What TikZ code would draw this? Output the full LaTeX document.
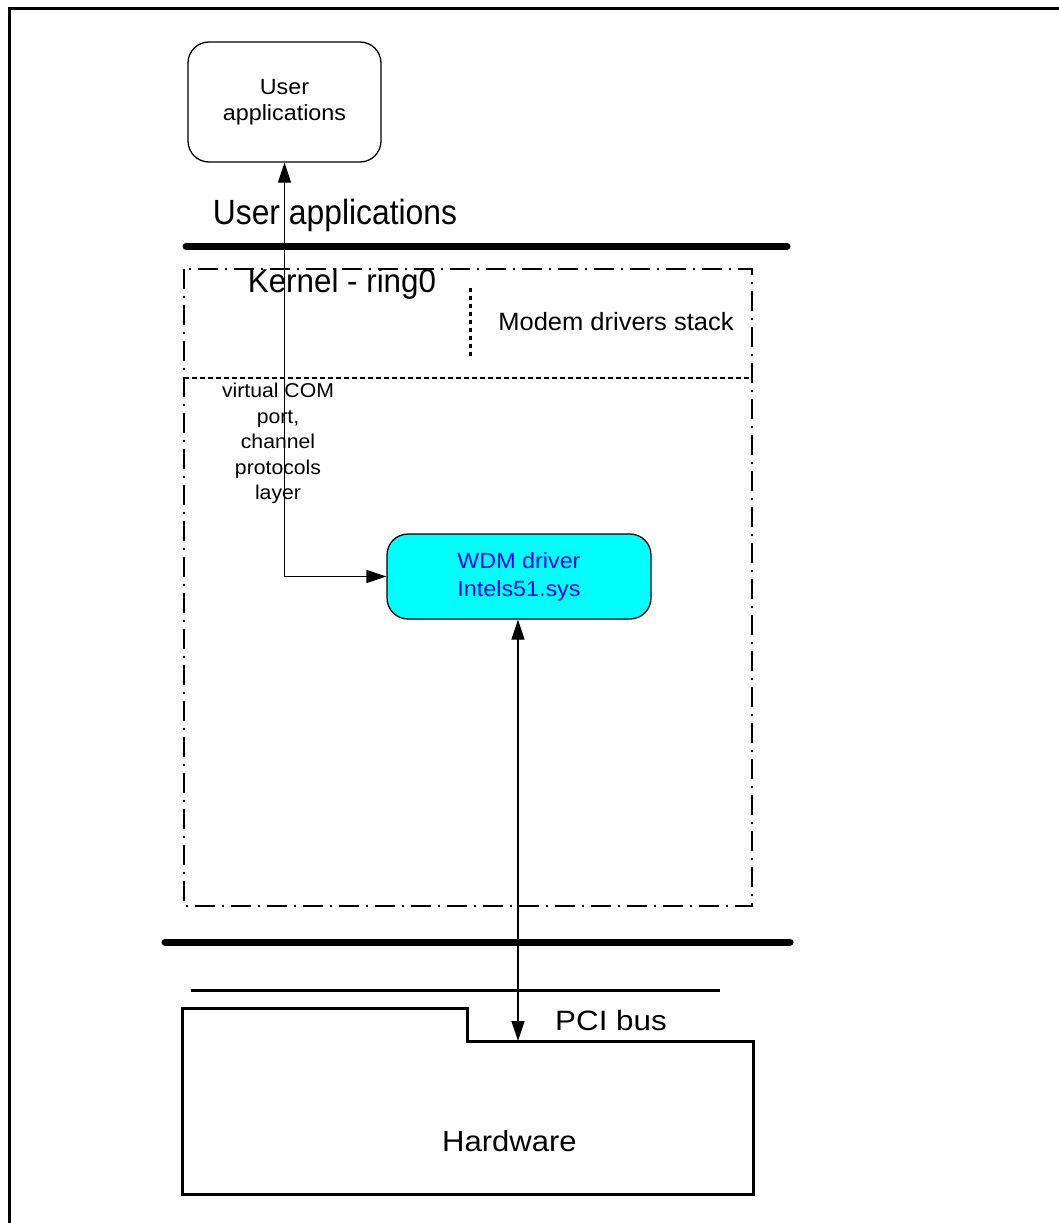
\documentclass[tikz,border=0pt]{standalone}
\usepackage{fontspec}
\setmainfont{Liberation Sans}
\newfontfamily\widefont{Liberation Sans}[FakeStretch=1.06]
\usetikzlibrary{arrows.meta}
\definecolor{wdmfill}{RGB}{0,255,255}
\definecolor{wdmtext}{RGB}{0,0,255}
\newcommand\hstretch[2]{\scalebox{#1}[1]{#2}}
\begin{document}
\begin{tikzpicture}[x=1pt,y=-1pt,
  rbox/.style={draw, line width=1.3pt, rounded corners=21pt, inner sep=0pt, align=center},
  tip/.tip={Triangle[length=20pt,width=13pt]},
  arr/.style={line width=1.3pt, tip-tip},
  bar/.style={line width=7pt, line cap=round},
  thinbar/.style={line width=3pt},
  dashdotbox/.style={line width=1.5pt, dash pattern=on 20pt off 7pt on 2pt off 7pt},
  layerline/.style={line width=1.3pt, dash pattern=on 5pt off 3pt},
  dotline/.style={line width=3pt, dash pattern=on 4pt off 4pt},
  lbl/.style={inner sep=0pt, anchor=base}
]
\useasboundingbox (0,0) rectangle (1059,1223);

% outer frame (top and left edges)
\draw[line width=3pt] (9,1223) -- (9,9) -- (1059,9);

% user applications box
\node[rbox, minimum width=193pt, minimum height=120pt,
      font=\widefont\fontsize{22}{26}\selectfont] (user) at (284.5,102) {User\\applications};

% user-space label and separator
\node[lbl, font=\fontsize{35}{40}\selectfont] (ualabel) at (335,224) {\hstretch{0.91}{User applications}};
\draw[bar] (186,246) -- (787,246);

% kernel region
\draw[dashdotbox] (184,269) rectangle (752,906);
\node[lbl, font=\fontsize{33}{38}\selectfont] (kernel) at (342,292) {\hstretch{0.95}{Kernel - ring0}};
\draw[dotline] (470,288) -- (470,357);
\node[lbl, font=\fontsize{25}{30}\selectfont] (modem) at (616,330) {\hstretch{1.02}{Modem drivers stack}};
\draw[layerline] (184,378) -- (752,378);
\node[inner sep=0pt, anchor=north, align=center, font=\widefont\fontsize{20}{25.5}\selectfont]
  (vcom) at (278,383) {virtual COM\\port,\\channel\\protocols\\layer};

% WDM driver
\node[rbox, fill=wdmfill, text=wdmtext, minimum width=264pt, minimum height=85pt,
      font=\widefont\fontsize{22}{28}\selectfont] (wdm) at (519,576.5) {WDM driver\\Intels51.sys};

% lower separators
\draw[bar] (165,942) -- (790,942);
\draw[thinbar] (191,990) -- (720,990);

% hardware
\draw[line width=3pt] (182,1008) -- (467,1008) -- (467,1041) -- (753,1041) -- (753,1194) -- (182,1194) -- cycle;
\coordinate (pci) at (518,1041);
\node[lbl, font=\fontsize{28}{33}\selectfont] (pcilabel) at (611,1030) {\hstretch{1.12}{PCI bus}};
\node[lbl, font=\fontsize{29}{34}\selectfont] (hw) at (509.5,1151) {\hstretch{1.07}{Hardware}};

% connectors
\draw[arr] (user.south) |- (wdm.west);
\draw[arr] (wdm.south -| pci) -- (pci);
\end{tikzpicture}
\end{document}
